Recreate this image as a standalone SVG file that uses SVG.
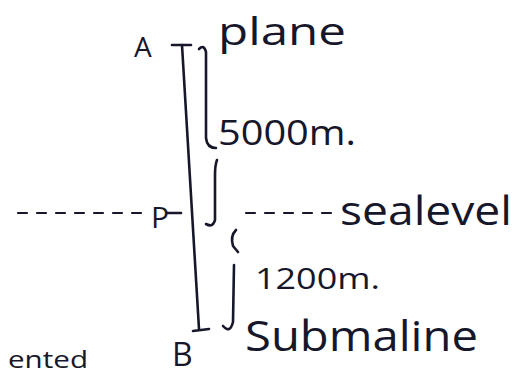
<svg xmlns="http://www.w3.org/2000/svg" width="520" height="376" viewBox="0 0 520 376">
<style>
.t{font-family:"Open Sans","Liberation Sans",sans-serif;fill:#17172b}
.s{fill:none;stroke:#17172b;stroke-width:2.6;stroke-linecap:round;stroke-linejoin:round}
.d{fill:none;stroke:#17172b;stroke-width:2.2;stroke-linecap:round;stroke-dasharray:9 10}
</style>
<rect width="520" height="376" fill="#ffffff"/>
<g id="connectors">
<path class="s" d="M172 45 L191 45"/>
<path class="s" d="M182 45 L199 329"/>
<path class="s" d="M193 331 L209 329"/>
<path class="s" d="M199 49 Q204 44 206 52 L206 138 Q207 148 216 148"/>
<path class="s" d="M217 160 Q215 165 215 175 L215 220 Q213 228 206 224"/>
<path class="d" d="M18 213 L148 213"/>
<path class="s" d="M167 213 L181 213"/>
<path class="d" d="M246 213 L335 213" stroke-dasharray="8 8"/>
<path class="s" d="M236 230 Q230 236 233 246 L238 252"/>
<path class="s" d="M234 265 L233 322 Q230 334 223 326"/>
</g>
<g id="A"><text class="t" x="134" y="57" font-size="28">A</text></g>
<g id="plane"><text class="t" x="218" y="45" font-size="38" textLength="128" lengthAdjust="spacingAndGlyphs">plane</text></g>
<g id="d5000"><text class="t" x="218" y="145" font-size="34" textLength="138" lengthAdjust="spacingAndGlyphs">5000m.</text></g>
<g id="P"><text class="t" x="151" y="228" font-size="30">P</text></g>
<g id="sealevel"><text class="t" x="340" y="225" font-size="40" textLength="172" lengthAdjust="spacingAndGlyphs">sealevel</text></g>
<g id="d1200"><text class="t" x="255" y="289" font-size="30" textLength="125" lengthAdjust="spacingAndGlyphs">1200m.</text></g>
<g id="submarine"><text class="t" x="245" y="351" font-size="42" textLength="233" lengthAdjust="spacingAndGlyphs">Submaline</text></g>
<g id="B"><text class="t" x="172" y="366" font-size="32">B</text></g>
<g id="ented"><text class="t" x="8" y="368" font-size="24" textLength="80" lengthAdjust="spacingAndGlyphs">ented</text></g>
</svg>
